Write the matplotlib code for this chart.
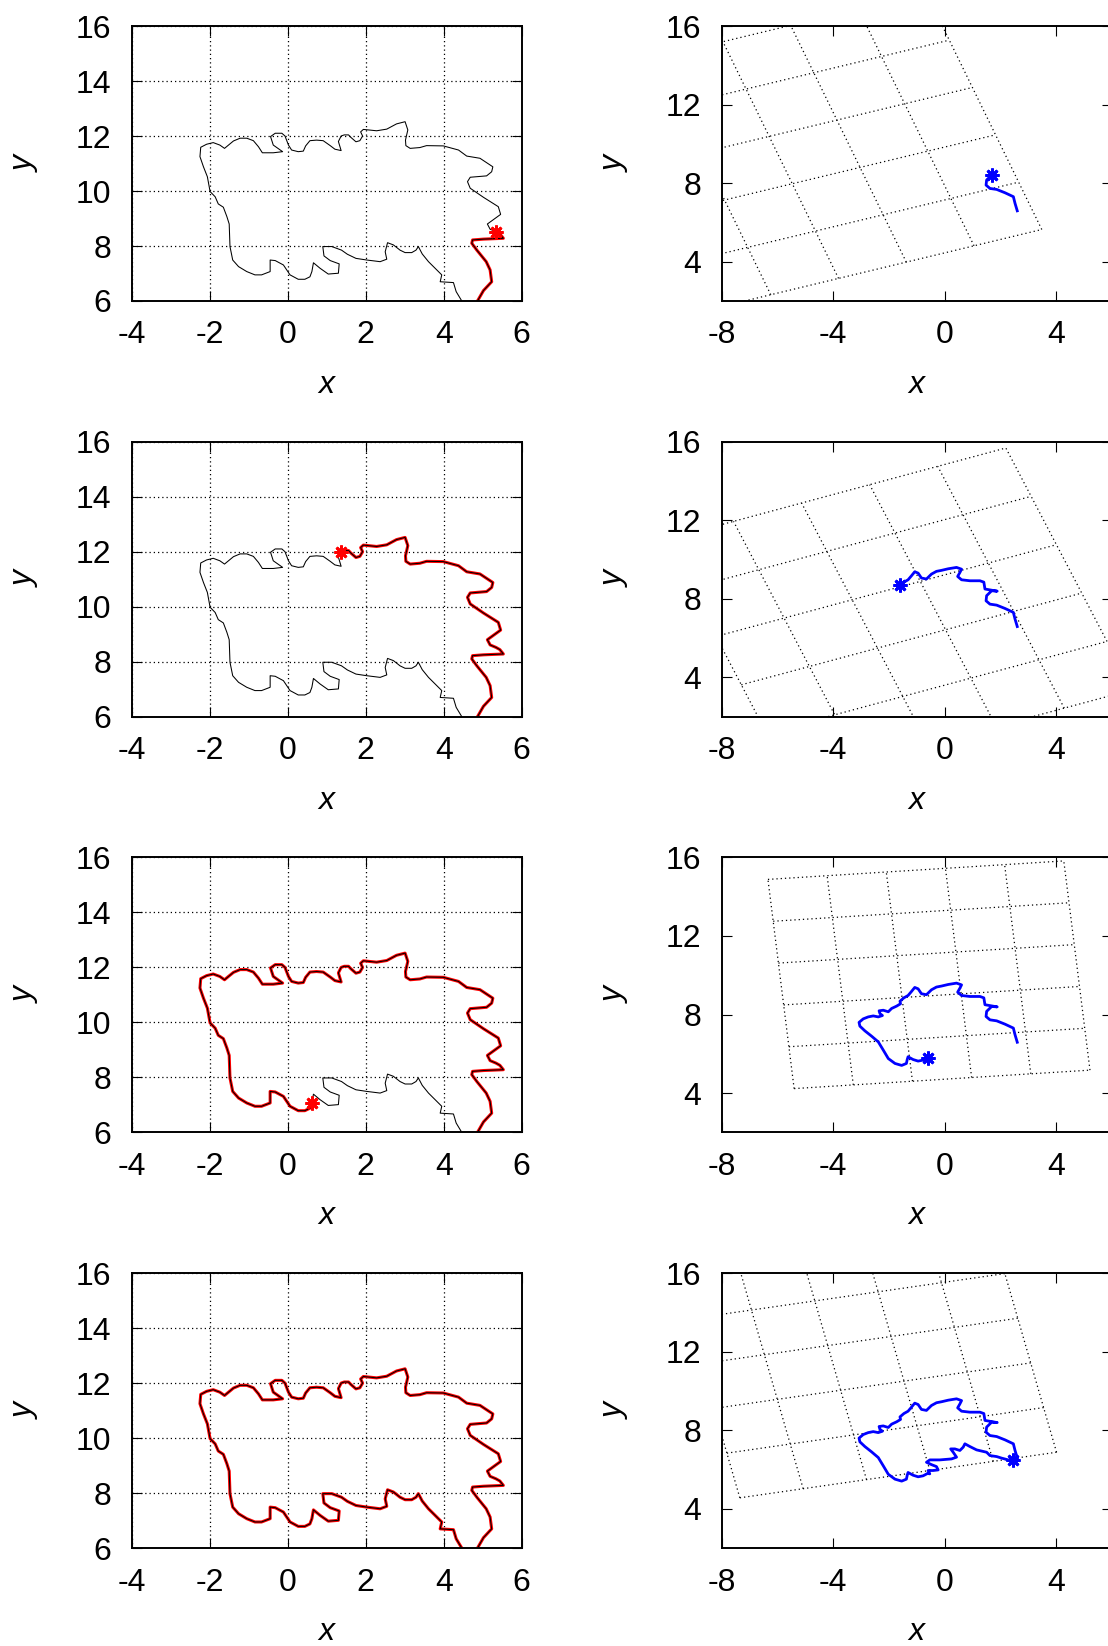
import numpy as np
import matplotlib
matplotlib.use("Agg")
import matplotlib.pyplot as plt

plt.rcParams["font.family"] = ["Liberation Sans", "DejaVu Sans"]
plt.rcParams["axes.unicode_minus"] = False

# path in the world frame (left column)
path_x = [4.80, 4.87, 5.02, 5.23, 5.19, 5.09, 4.85, 4.72, 4.74, 5.02, 5.53, 5.44, 5.34,
          5.19, 5.12, 5.46, 5.40, 5.02, 4.68, 4.61, 4.68, 5.10, 5.23, 5.26, 4.93, 4.59,
          4.38, 3.99, 3.56, 3.39, 3.14, 3.03, 3.02, 3.08, 3.01, 2.79, 2.54, 2.28, 1.94,
          1.87, 1.92, 1.85, 1.75, 1.62, 1.56, 1.45, 1.37, 1.30, 1.37, 1.21, 1.09, 0.91,
          0.74, 0.57, 0.46, 0.40, 0.27, 0.10, 0.02, -0.07, -0.15, -0.32, -0.44, -0.37,
          -0.13, -0.37, -0.65, -0.75, -0.88, -1.05, -1.22, -1.39, -1.52, -1.62, -1.74,
          -1.91, -2.08, -2.23, -2.25, -2.16, -2.06, -1.99, -1.86, -1.78, -1.65, -1.56,
          -1.50, -1.48, -1.41, -1.26, -1.05, -0.84, -0.67, -0.45, -0.45, -0.32, -0.11,
          0.06, 0.27, 0.44, 0.57, 0.62, 0.66, 0.83, 1.04, 1.30, 1.32, 1.09, 0.93, 0.90,
          1.13, 1.38, 1.53, 1.75, 2.03, 2.37, 2.54, 2.50, 2.56, 2.71, 2.88, 3.01, 3.18,
          3.29, 3.35, 3.45, 3.61, 3.82, 3.95, 3.91, 4.25, 4.32, 4.46, 4.57]
path_y = [5.80, 6.01, 6.38, 6.70, 7.13, 7.43, 7.85, 8.10, 8.22, 8.25, 8.28, 8.44, 8.52,
          8.61, 8.80, 9.15, 9.43, 9.77, 10.10, 10.34, 10.50, 10.55, 10.70, 10.88, 11.19,
          11.27, 11.49, 11.64, 11.65, 11.58, 11.55, 11.65, 11.85, 12.22, 12.52, 12.44,
          12.25, 12.19, 12.24, 12.15, 12.00, 11.83, 11.79, 11.95, 12.04, 12.04, 12.00,
          11.80, 11.47, 11.52, 11.65, 11.83, 11.85, 11.83, 11.64, 11.45, 11.43, 11.49,
          11.67, 12.00, 12.10, 12.10, 11.98, 11.67, 11.43, 11.39, 11.39, 11.61, 11.83,
          11.92, 11.92, 11.82, 11.67, 11.55, 11.67, 11.76, 11.70, 11.59, 11.25, 10.88,
          10.52, 9.98, 9.79, 9.53, 9.41, 9.07, 8.80, 7.98, 7.49, 7.25, 7.07, 6.95, 6.95,
          7.07, 7.49, 7.47, 7.31, 6.95, 6.79, 6.79, 6.88, 7.07, 7.39, 7.19, 6.98, 7.01,
          7.35, 7.47, 7.64, 7.98, 7.98, 7.85, 7.70, 7.55, 7.49, 7.43, 7.52, 7.79, 8.12,
          8.04, 7.85, 7.76, 7.76, 7.85, 7.98, 7.71, 7.43, 7.13, 6.95, 6.70, 6.67, 6.34,
          6.01, 5.79]

# same run in the odometry frame (right column)
odo_x = [2.61, 2.53, 2.47, 2.17, 1.87, 1.63, 1.49, 1.51, 1.69, 1.89, 1.45, 1.41, 1.27,
         0.91, 0.61, 0.47, 0.55, 0.61, 0.43, 0.13, -0.11, -0.29, -0.47, -0.65, -0.83,
         -0.95, -1.07, -1.19, -1.31, -1.46, -1.60, -1.58, -1.72, -1.90, -2.02, -2.20,
         -2.35, -2.32, -2.23, -2.38, -2.56, -2.74, -2.92, -3.07, -3.04, -2.86, -2.62,
         -2.38, -2.20, -2.02, -1.78, -1.54, -1.37, -1.34, -1.31, -1.13, -0.95, -0.77,
         -0.61, -0.53, -0.59, -0.41, -0.23, -0.29, -0.47, -0.65, -0.53, -0.17, 0.25,
         0.43, 0.31, 0.22, 0.37, 0.55, 0.67, 0.73, 0.91, 1.15, 1.51, 1.63, 1.87, 2.05,
         2.29, 2.47]
odo_y = [6.59, 6.97, 7.31, 7.51, 7.68, 7.73, 7.90, 8.16, 8.41, 8.39, 8.50, 8.85, 8.92,
         8.92, 8.97, 9.14, 9.34, 9.51, 9.60, 9.53, 9.45, 9.40, 9.26, 9.01, 9.06, 9.31,
         9.38, 9.17, 8.97, 8.85, 8.68, 8.55, 8.43, 8.31, 8.14, 8.22, 8.19, 8.05, 7.95,
         7.88, 7.93, 7.88, 7.78, 7.60, 7.41, 7.17, 6.90, 6.61, 6.19, 5.76, 5.51, 5.41,
         5.51, 5.71, 5.85, 5.71, 5.63, 5.68, 5.80, 5.78, 5.95, 5.95, 5.98, 6.15, 6.25,
         6.37, 6.49, 6.49, 6.54, 6.63, 6.88, 7.05, 7.05, 6.97, 7.14, 7.31, 7.17, 7.00,
         6.88, 6.71, 6.66, 6.58, 6.49, 6.46]

# current position in each snapshot
path_now = [12, 46, 101, 133]
odo_now = [8, 30, 58, 83]
path_star = [True, True, True, False]

# world grid [-4,6]x[6,16] seen from the odometry frame: corners
grid_bl = [(-8.67, 1.49), (-5.48, -1.30), (-5.40, 4.23), (-7.35, 4.56)]
grid_br = [(3.49, 5.64), (6.74, 3.37), (5.22, 5.17), (4.02, 6.88)]
grid_tl = [(-12.82, 13.54), (-10.02, 11.01), (-6.34, 14.88), (-9.67, 15.93)]

W, H = 1108, 1646
fig = plt.figure(figsize=(W / 100, H / 100), dpi=100)
dots = (0, (1, 2.4))
star = (8, 2, 0)


def style(ax):
    ax.tick_params(direction="in", top=True, right=True, length=7, width=0.8,
                   labelsize=23)
    ax.tick_params(axis="x", pad=14)
    ax.tick_params(axis="y", pad=14.5)
    for s in ax.spines.values():
        s.set_linewidth(1.4)
    ax.set_xlabel("x", style="italic", fontsize=23)
    ax.set_ylabel("y", style="italic", fontsize=23)
    ax.xaxis.set_label_coords(0.5, -84 / 275)
    ax.xaxis.label.set_verticalalignment("center")
    ax.yaxis.set_label_coords(-92 / 390, 0.5)


for i in range(4):
    top = 26 + 415.7 * i
    b = 1 - (top + 275) / H
    axl = fig.add_axes([131.7 / W, b, 390 / W, 275 / H])
    axr = fig.add_axes([721.7 / W, b, 390 / W, 275 / H])

    # world frame
    n = path_now[i] + 1
    axl.plot(path_x[:n], path_y[:n], color="#ff0000", lw=2.2, solid_capstyle="round")
    axl.plot(path_x, path_y, color="black", lw=0.75)
    if path_star[i]:
        axl.plot(path_x[path_now[i]], path_y[path_now[i]], marker=star, ms=10, mew=2,
                 color="#ff0000", ls="none")
    axl.set_xlim(-4, 6)
    axl.set_ylim(6, 16)
    axl.set_xticks(np.arange(-4, 7, 2))
    axl.set_yticks(np.arange(6, 17, 2))
    axl.grid(True, ls=dots, color="black", lw=0.9)
    axl.set_axisbelow(True)
    style(axl)

    # odometry frame with the transformed world grid
    bl, br, tl = np.array(grid_bl[i]), np.array(grid_br[i]), np.array(grid_tl[i])
    ex, ey = br - bl, tl - bl
    for k in range(6):
        u = k / 5
        p0, p1 = bl + u * ex, bl + u * ex + ey
        axr.plot([p0[0], p1[0]], [p0[1], p1[1]], ls=dots, color="black", lw=0.9)
        q0, q1 = bl + u * ey, bl + u * ey + ex
        axr.plot([q0[0], q1[0]], [q0[1], q1[1]], ls=dots, color="black", lw=0.9)
    m = odo_now[i] + 1
    axr.plot(odo_x[:m], odo_y[:m], color="#0000ff", lw=2.0)
    axr.plot(odo_x[odo_now[i]], odo_y[odo_now[i]], marker=star, ms=10, mew=2,
             color="#0000ff", ls="none")
    axr.set_xlim(-8, 6)
    axr.set_ylim(2, 16)
    axr.set_xticks([-8, -4, 0, 4])
    axr.set_yticks([4, 8, 12, 16])
    style(axr)

fig.savefig("out.png", dpi=100)
